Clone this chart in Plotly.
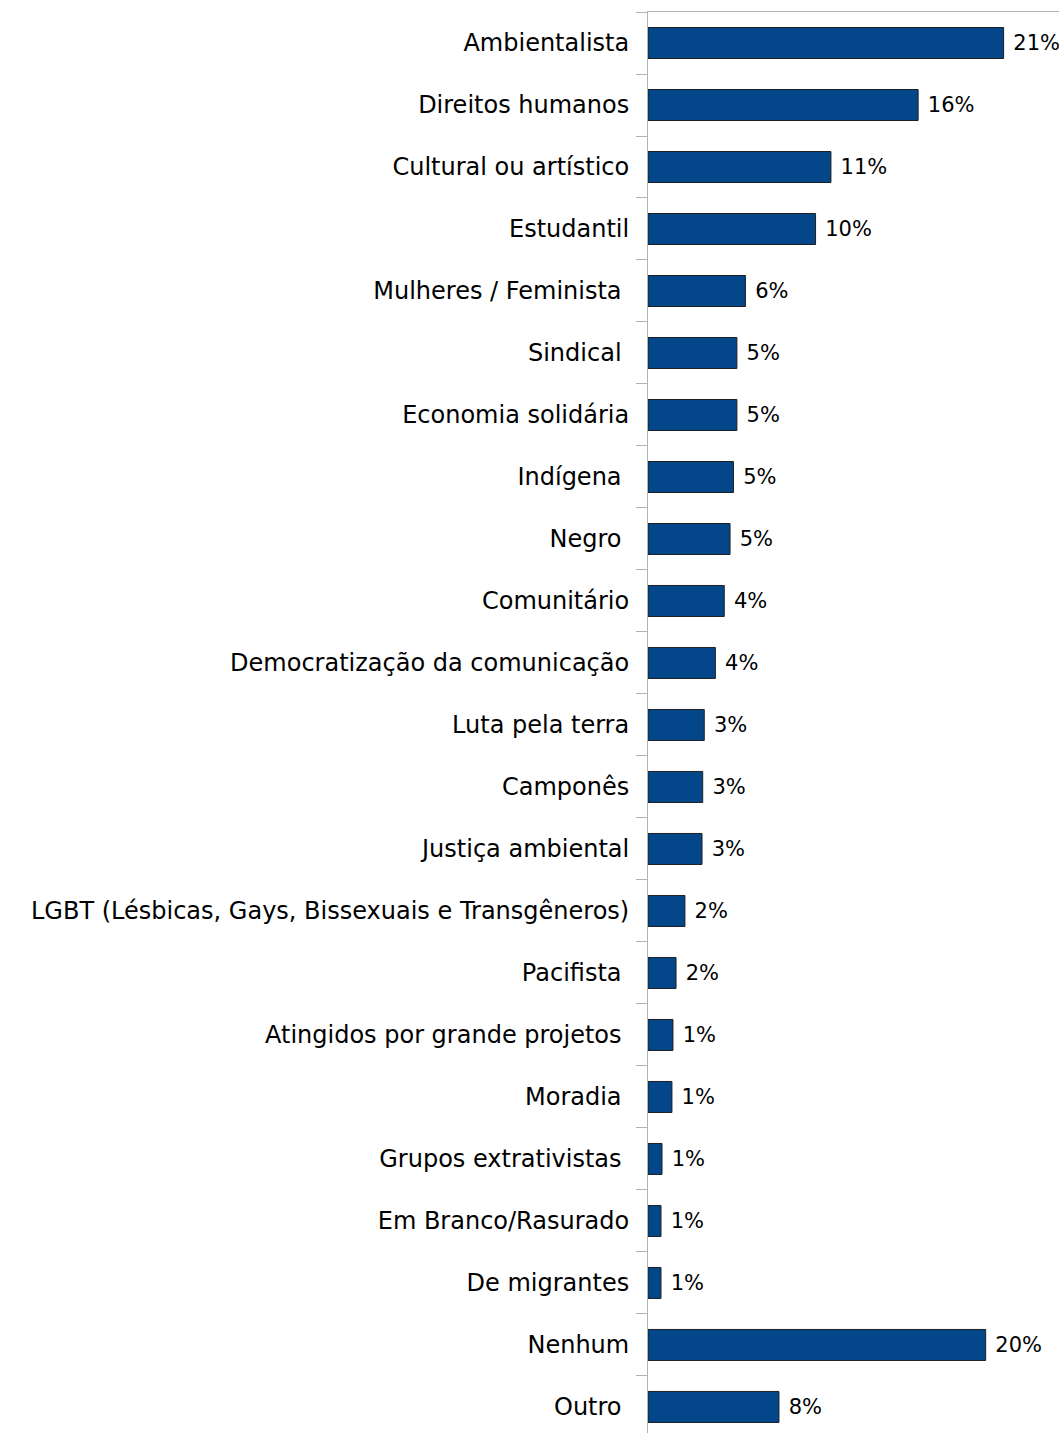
import plotly.graph_objects as go

categories = [
    "Ambientalista",
    "Direitos humanos",
    "Cultural ou artístico",
    "Estudantil",
    "Mulheres / Feminista\u00a0",
    "Sindical\u00a0",
    "Economia solidária",
    "Indígena\u00a0",
    "Negro\u00a0",
    "Comunitário",
    "Democratização da comunicação",
    "Luta pela terra",
    "Camponês",
    "Justiça ambiental",
    "LGBT (Lésbicas, Gays, Bissexuais e Transgêneros)",
    "Pacifista\u00a0",
    "Atingidos por grande projetos\u00a0",
    "Moradia\u00a0",
    "Grupos extrativistas\u00a0",
    "Em Branco/Rasurado",
    "De migrantes",
    "Nenhum",
    "Outro\u00a0",
]

values = [20.8, 15.8, 10.7, 9.8, 5.7, 5.2, 5.2, 5.0, 4.8, 4.46, 3.94, 3.29, 3.2, 3.16,
          2.16, 1.64, 1.46, 1.4, 0.82, 0.76, 0.76, 19.75, 7.66]

value_labels = ["21%", "16%", "11%", "10%", "6%", "5%", "5%", "5%", "5%", "4%", "4%", "3%",
                "3%", "3%", "2%", "2%", "1%", "1%", "1%", "1%", "1%", "20%", "8%"]

axis_gray = "#b3b3b3"
font_family = "DejaVu Sans, Verdana, sans-serif"

fig = go.Figure(
    go.Bar(
        x=values,
        y=categories,
        orientation="h",
        marker=dict(color="#03468A", line=dict(color="#1f1f1f", width=1)),
        text=["\u00a0" + t for t in value_labels],
        textposition="outside",
        textfont=dict(family=font_family, size=21, color="#000000"),
        cliponaxis=False,
        width=0.5,
    )
)

fig.update_layout(
    width=1059,
    height=1433,
    margin=dict(l=648, r=0, t=12, b=0),
    plot_bgcolor="white",
    paper_bgcolor="white",
    showlegend=False,
    bargap=0.5,
    font=dict(family=font_family, color="#000000"),
)

fig.update_xaxes(
    range=[0, 24.04],
    side="top",
    showline=True,
    linecolor=axis_gray,
    linewidth=1,
    showgrid=False,
    zeroline=False,
    showticklabels=False,
    ticks="",
)

fig.update_yaxes(
    type="category",
    categoryorder="array",
    categoryarray=categories,
    range=[22.42, -0.5],
    showline=True,
    linecolor=axis_gray,
    linewidth=1,
    showgrid=False,
    ticks="outside",
    tickson="boundaries",
    ticklen=11,
    tickcolor=axis_gray,
    tickwidth=1,
    tickfont=dict(family=font_family, size=24, color="#000000"),
    ticklabelstandoff=13,
    automargin=False,
)

fig.write_html("out.html")
